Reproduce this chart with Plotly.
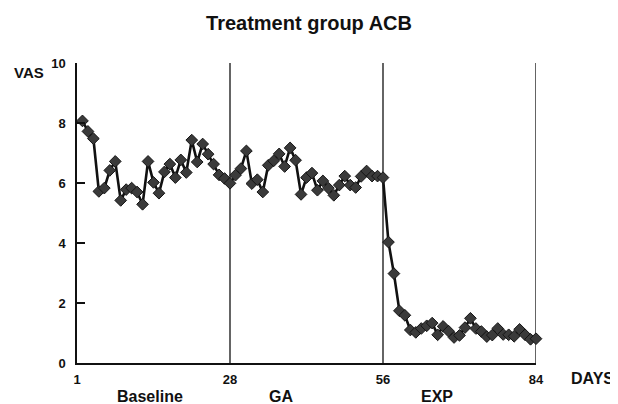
import plotly.graph_objects as go

days = list(range(1, 85))
baseline_vas = [8.07, 7.72, 7.48, 5.72, 5.83, 6.42, 6.72, 5.42, 5.78, 5.83, 5.70, 5.29, 6.72, 6.02,
                5.66, 6.37, 6.63, 6.18, 6.77, 6.35, 7.43, 6.70, 7.30, 6.96, 6.63, 6.27, 6.15, 5.99]
ga_vas = [6.26, 6.48, 7.07, 5.98, 6.11, 5.70, 6.59, 6.74, 6.97, 6.55, 7.17, 6.76, 5.62, 6.18,
          6.33, 5.76, 6.07, 5.83, 5.59, 5.93, 6.23, 5.93, 5.85, 6.22, 6.40, 6.23, 6.23, 6.18]
exp_vas = [4.03, 2.98, 1.74, 1.59, 1.10, 1.02, 1.15, 1.24, 1.33, 0.94, 1.22, 1.06, 0.85, 0.92,
           1.18, 1.49, 1.15, 1.05, 0.88, 0.93, 1.15, 0.95, 0.94, 0.89, 1.12, 0.94, 0.79, 0.81]
vas = baseline_vas + ga_vas + exp_vas

x_tick_vals = [0, 28, 56, 84]
x_tick_text = ["1", "28", "56", "84"]
y_tick_vals = [0, 2, 4, 6, 8, 10]
phase_boundaries = [28, 56, 84]
phase_labels = ["Baseline", "GA", "EXP"]
phase_label_x = [13.4, 37.3, 65.9]

FONT = "Liberation Sans, Arial, Helvetica, sans-serif"
INK = "#111111"

# the page puts the figure 8 px in from the top-left corner
W, H = 610, 396
ML, MT, PW, PH = 69, 55, 459, 300

fig = go.Figure()
fig.add_trace(go.Scatter(
    x=days, y=vas, mode="lines+markers",
    line=dict(color=INK, width=2.6),
    marker=dict(symbol="diamond", size=9, color="#3a3a3a", line=dict(color="#151515", width=1)),
    cliponaxis=False, showlegend=False, hoverinfo="skip",
))

for b in phase_boundaries:
    fig.add_shape(type="line", xref="x", yref="y", x0=b, x1=b, y0=0, y1=10,
                  line=dict(color=INK, width=1.3), layer="below")

for lab, lx in zip(phase_labels, phase_label_x):
    fig.add_annotation(text=lab, x=lx, xref="x", y=-0.11, yref="paper",
                       xanchor="center", yanchor="middle", showarrow=False,
                       font=dict(family=FONT, size=16, color=INK, weight="bold"))

fig.add_annotation(text="DAYS", x=(592 - 77) / PW, xref="paper", y=-0.0533, yref="paper",
                   xanchor="center", yanchor="middle", showarrow=False,
                   font=dict(family=FONT, size=16, color=INK, weight="bold"))

fig.add_annotation(text="VAS", x=(29 - 77) / PW, xref="paper", y=(363 - 72) / PH, yref="paper",
                   xanchor="center", yanchor="middle", showarrow=False,
                   font=dict(family=FONT, size=15, color=INK, weight="bold"))

fig.update_layout(
    width=W, height=H,
    margin=dict(l=ML, r=W - ML - PW, t=MT, b=H - MT - PH, autoexpand=False),
    paper_bgcolor="white", plot_bgcolor="white",
    title=dict(text="Treatment group ACB", x=(309 - 8) / W, xanchor="center",
               y=1 - (23 - 8) / H, yanchor="middle", yref="container",
               font=dict(family=FONT, size=20, color=INK, weight="bold")),
    xaxis=dict(range=[0, 84], showgrid=False, zeroline=False, showline=True,
               linecolor=INK, linewidth=1.5, ticks="",
               tickvals=x_tick_vals, ticktext=x_tick_text,
               tickfont=dict(family=FONT, size=13, color=INK, weight="bold"),
               ticklabelstandoff=4),
    yaxis=dict(range=[0, 10], showgrid=False, zeroline=False, showline=True,
               linecolor=INK, linewidth=1.5, ticks="inside", ticklen=8, tickwidth=1.5,
               tickcolor=INK, tickvals=y_tick_vals,
               tickfont=dict(family=FONT, size=13, color=INK, weight="bold"),
               ticklabelstandoff=7),
)

fig.write_html("out.html", config={"displayModeBar": False})
